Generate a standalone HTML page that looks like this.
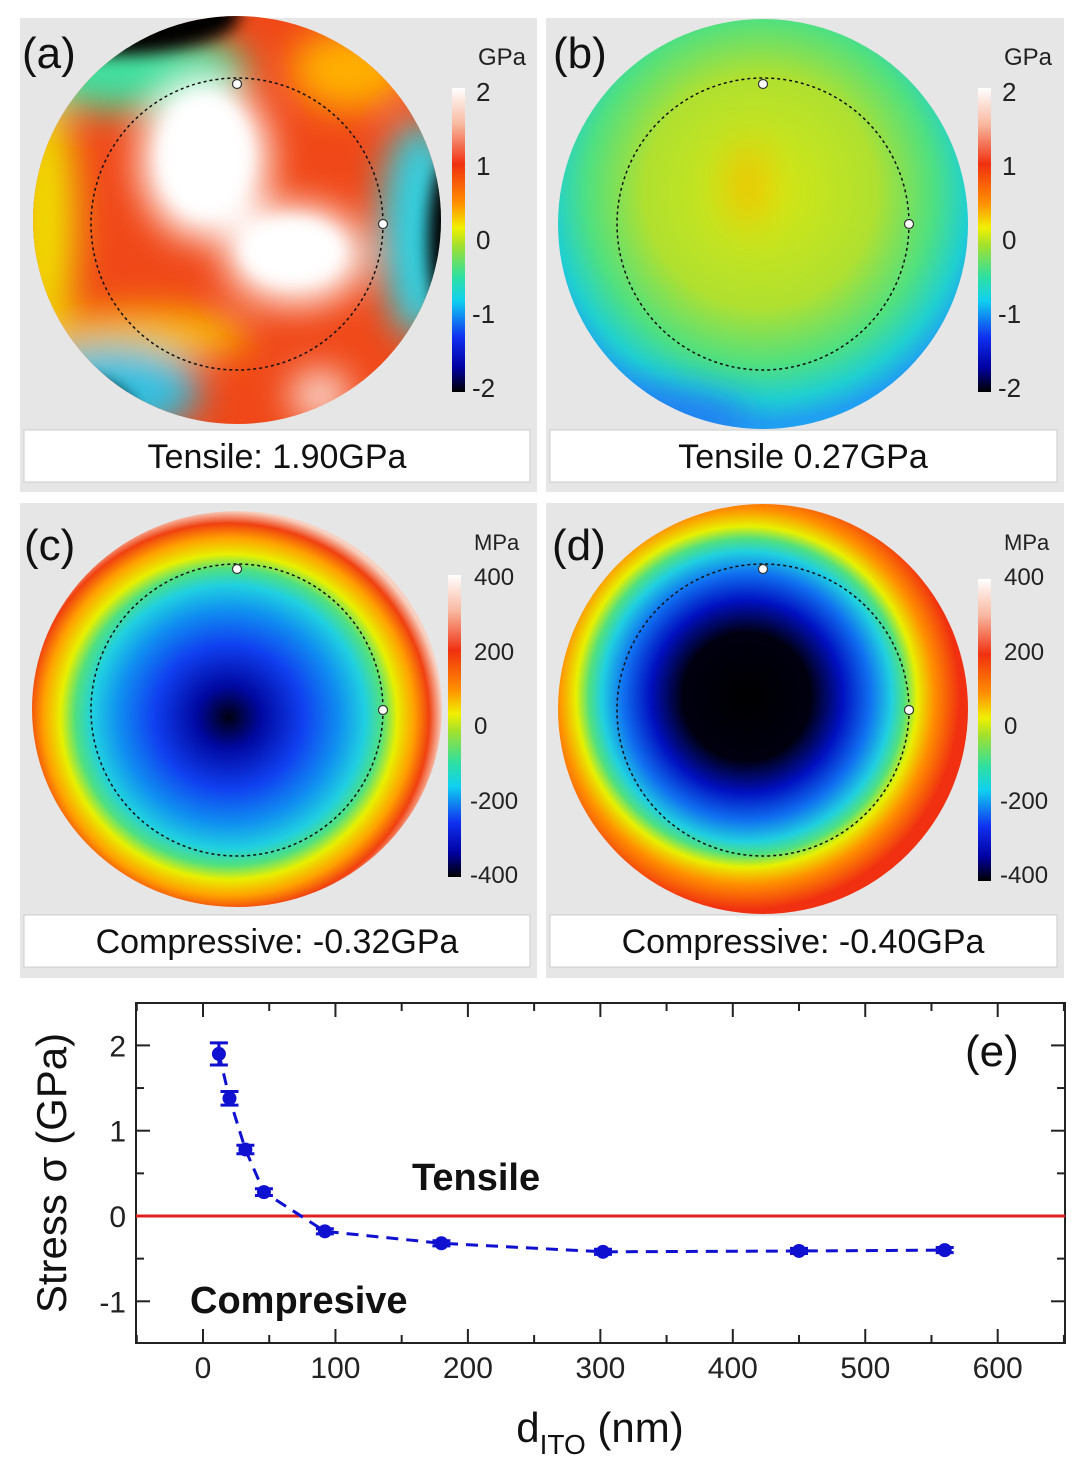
<!DOCTYPE html>
<html><head><meta charset="utf-8"><style>
body{margin:0;background:#fff;width:1080px;height:1466px;overflow:hidden;font-family:"Liberation Sans",sans-serif}
svg text{font-family:"Liberation Sans","DejaVu Sans",sans-serif}
</style></head><body>
<svg width="1080" height="1466" viewBox="0 0 1080 1466" xmlns="http://www.w3.org/2000/svg">
<defs>
<linearGradient id="cbar" x1="0" y1="0" x2="0" y2="1">
<stop offset="0" stop-color="#fff"/><stop offset="0.12" stop-color="#f8b8a0"/><stop offset="0.25" stop-color="#f03010"/><stop offset="0.38" stop-color="#ff9000"/><stop offset="0.46" stop-color="#f0f000"/><stop offset="0.52" stop-color="#a0e030"/><stop offset="0.62" stop-color="#30e0a0"/><stop offset="0.7" stop-color="#10d0f0"/><stop offset="0.82" stop-color="#1030f0"/><stop offset="0.92" stop-color="#0000a0"/><stop offset="1" stop-color="#000"/>
</linearGradient>
<radialGradient id="gc" cx="0.48" cy="0.52" r="0.52">
<stop offset="0" stop-color="#000010"/><stop offset="0.15" stop-color="#0008a0"/><stop offset="0.35" stop-color="#1040f0"/><stop offset="0.52" stop-color="#1090f0"/><stop offset="0.64" stop-color="#20d0e0"/><stop offset="0.72" stop-color="#50e080"/><stop offset="0.79" stop-color="#e8f000"/><stop offset="0.87" stop-color="#ffa000"/><stop offset="0.94" stop-color="#f04010"/><stop offset="1" stop-color="#f8d0c0"/>
</radialGradient>
<radialGradient id="gd" cx="0.46" cy="0.47" r="0.52">
<stop offset="0" stop-color="#000"/><stop offset="0.3" stop-color="#000010"/><stop offset="0.45" stop-color="#0010c0"/><stop offset="0.58" stop-color="#1070f0"/><stop offset="0.68" stop-color="#20d0e0"/><stop offset="0.74" stop-color="#50e080"/><stop offset="0.8" stop-color="#e8f000"/><stop offset="0.88" stop-color="#ff9000"/><stop offset="1" stop-color="#f03010"/>
</radialGradient>
<radialGradient id="gb" cx="0.5" cy="0.42" r="0.55">
<stop offset="0" stop-color="#d8e810"/><stop offset="0.5" stop-color="#b0e030"/><stop offset="0.75" stop-color="#50e080"/><stop offset="0.9" stop-color="#20d0d0"/><stop offset="1" stop-color="#20a0f0"/>
</radialGradient>
<filter id="bl" x="-50%" y="-50%" width="200%" height="200%"><feGaussianBlur stdDeviation="18"/></filter>
<filter id="bl2" x="-50%" y="-50%" width="200%" height="200%"><feGaussianBlur stdDeviation="8"/></filter>
<clipPath id="ca"><circle cx="237" cy="220" r="204"/></clipPath>
<clipPath id="cb"><circle cx="763" cy="224" r="205"/></clipPath>
</defs>

<rect x="20" y="18" width="517" height="474" fill="#e6e6e6"/>
<rect x="546" y="18" width="518" height="474" fill="#e6e6e6"/>
<rect x="20" y="503" width="517" height="475" fill="#e6e6e6"/>
<rect x="546" y="503" width="518" height="475" fill="#e6e6e6"/>

<g clip-path="url(#ca)">
<rect x="20" y="10" width="440" height="420" fill="#f04818"/>
<g filter="url(#bl)">
<ellipse cx="45" cy="220" rx="30" ry="130" fill="#f0e000"/>
<ellipse cx="150" cy="335" rx="100" ry="25" fill="#f8c000"/>
<ellipse cx="130" cy="70" rx="120" ry="40" fill="#40e0a0"/>
<ellipse cx="420" cy="230" rx="40" ry="110" fill="#30d0e0"/>
<ellipse cx="110" cy="390" rx="90" ry="45" fill="#30c0e0"/>
<ellipse cx="350" cy="70" rx="60" ry="40" fill="#ffb000"/>
<ellipse cx="205" cy="160" rx="65" ry="80" fill="#fff"/>
<ellipse cx="295" cy="255" rx="70" ry="50" fill="#fff"/>
<ellipse cx="320" cy="395" rx="30" ry="25" fill="#fbe0d8"/>
</g>
<g filter="url(#bl2)">
<ellipse cx="205" cy="155" rx="45" ry="60" fill="#fff"/>
<ellipse cx="292" cy="250" rx="50" ry="32" fill="#fff"/>
<ellipse cx="110" cy="15" rx="130" ry="40" fill="#000"/>
<ellipse cx="450" cy="240" rx="22" ry="80" fill="#000"/>
<ellipse cx="60" cy="415" rx="75" ry="40" fill="#000"/>
</g>
</g>
<g clip-path="url(#cb)">
<rect x="550" y="15" width="420" height="420" fill="url(#gb)"/>
<g filter="url(#bl)"><ellipse cx="748" cy="185" rx="18" ry="40" fill="#f0c000"/>
<ellipse cx="640" cy="420" rx="110" ry="30" fill="#2080f0"/></g>
</g>
<ellipse cx="237" cy="709" rx="205" ry="198" fill="url(#gc)"/>
<circle cx="763" cy="709" r="205" fill="url(#gd)"/>

<g fill="none" stroke="#111" stroke-width="1.5" stroke-dasharray="3,3">
<circle cx="237" cy="224" r="146"/><circle cx="763" cy="224" r="146"/>
<circle cx="237" cy="710" r="146"/><circle cx="763" cy="710" r="146"/>
</g>
<g fill="#fff" stroke="#333" stroke-width="1.2">
<circle cx="237" cy="84" r="4.5"/><circle cx="383" cy="224" r="4.5"/>
<circle cx="763" cy="84" r="4.5"/><circle cx="909" cy="224" r="4.5"/>
<circle cx="237" cy="569" r="4.5"/><circle cx="383" cy="710" r="4.5"/>
<circle cx="763" cy="569" r="4.5"/><circle cx="909" cy="710" r="4.5"/>
</g>

<g>
<rect x="452" y="88" width="13" height="304" fill="url(#cbar)"/>
<text x="478" y="65" font-size="24" fill="#222">GPa</text>
<g font-size="26" fill="#222"><text x="476" y="101">2</text><text x="476" y="175">1</text><text x="476" y="249">0</text><text x="472" y="323">-1</text><text x="472" y="397">-2</text></g>
</g>
<g>
<rect x="978" y="88" width="13" height="304" fill="url(#cbar)"/>
<text x="1004" y="65" font-size="24" fill="#222">GPa</text>
<g font-size="26" fill="#222"><text x="1002" y="101">2</text><text x="1002" y="175">1</text><text x="1002" y="249">0</text><text x="998" y="323">-1</text><text x="998" y="397">-2</text></g>
</g>
<g>
<rect x="448" y="575" width="13" height="302" fill="url(#cbar)"/>
<text x="474" y="550" font-size="22" fill="#222">MPa</text>
<g font-size="24" fill="#222"><text x="474" y="585">400</text><text x="474" y="660">200</text><text x="474" y="734">0</text><text x="470" y="809">-200</text><text x="470" y="883">-400</text></g>
</g>
<g>
<rect x="978" y="579" width="13" height="302" fill="url(#cbar)"/>
<text x="1004" y="550" font-size="22" fill="#222">MPa</text>
<g font-size="24" fill="#222"><text x="1004" y="585">400</text><text x="1004" y="660">200</text><text x="1004" y="734">0</text><text x="1000" y="809">-200</text><text x="1000" y="883">-400</text></g>
</g>

<g font-size="44" fill="#111">
<text x="22" y="68">(a)</text>
<text x="553" y="68">(b)</text>
<text x="24" y="560">(c)</text>
<text x="552" y="560">(d)</text>
</g>

<g fill="#fff" stroke="#ccc">
<rect x="24" y="430" width="506" height="52"/>
<rect x="550" y="430" width="507" height="52"/>
<rect x="24" y="915" width="506" height="52"/>
<rect x="550" y="915" width="507" height="52"/>
</g>
<g font-size="34" fill="#111" text-anchor="middle">
<text x="277" y="468">Tensile: 1.90GPa</text>
<text x="803" y="468">Tensile 0.27GPa</text>
<text x="277" y="953">Compressive: -0.32GPa</text>
<text x="803" y="953">Compressive: -0.40GPa</text>
</g>

<g id="chart"></g>
</svg>
<script>
const xValues=[12,20,32,46,92,180,302,450,560];
const yValues=[1.9,1.38,0.78,0.28,-0.18,-0.32,-0.42,-0.41,-0.40];
const yErr=[0.13,0.08,0.05,0.04,0.03,0.03,0.03,0.03,0.03];
const xTicks=[0,100,200,300,400,500,600];
const yTicks=[2,1,0,-1];
const L=136,R=1065,T=1003,B=1343;
const sx=v=>203+v*1.3245;
const sy=v=>1216-v*85.3;
const ns='http://www.w3.org/2000/svg';
const g=document.getElementById('chart');
function mk(t,a,p){const e=document.createElementNS(ns,t);for(const k in a)e.setAttribute(k,a[k]);(p||g).appendChild(e);return e;}
let e;
e=mk('rect',{x:L,y:T,width:R-L,height:B-T,fill:'#fff',stroke:'#222','stroke-width':2});


for(let v=-50;v<=650;v+=50){const x=sx(v);if(x<=L||x>=R)continue;const len=v%100===0?14:8;
mk('line',{x1:x,y1:B,x2:x,y2:B-len,stroke:'#222','stroke-width':2});mk('line',{x1:x,y1:T,x2:x,y2:T+len,stroke:'#222','stroke-width':2});}
for(let v=-1.5;v<=2.5;v+=0.5){const y=sy(v);if(y<=T||y>=B)continue;const len=Number.isInteger(v)?14:8;
mk('line',{x1:L,y1:y,x2:L+len,y2:y,stroke:'#222','stroke-width':2});mk('line',{x1:R,y1:y,x2:R-len,y2:y,stroke:'#222','stroke-width':2});}
xTicks.forEach(v=>{e=mk('text',{x:sx(v),y:1378,'font-size':30,'text-anchor':'middle',fill:'#222'});e.textContent=v;

});
yTicks.forEach(v=>{e=mk('text',{x:126,y:sy(v)+11,'font-size':30,'text-anchor':'end',fill:'#222'});e.textContent=v;

});
e=mk('line',{x1:L,y1:sy(0),x2:R,y2:sy(0),stroke:'#e02020','stroke-width':3});


e=mk('polyline',{points:xValues.map((x,i)=>sx(x)+','+sy(yValues[i])).join(' '),fill:'none',stroke:'#1010d0','stroke-width':3,'stroke-dasharray':'12,8'});


xValues.forEach((x,i)=>{const cx=sx(x),cy=sy(yValues[i]),er=yErr[i]*85.3;
mk('line',{x1:cx,y1:cy-er,x2:cx,y2:cy+er,stroke:'#1010d0','stroke-width':3});
mk('line',{x1:cx-9,y1:cy-er,x2:cx+9,y2:cy-er,stroke:'#1010d0','stroke-width':3});
mk('line',{x1:cx-9,y1:cy+er,x2:cx+9,y2:cy+er,stroke:'#1010d0','stroke-width':3});
e=mk('circle',{cx:cx,cy:cy,r:7,fill:'#1010d0'});

});
e=mk('text',{x:412,y:1190,'font-size':38,'font-weight':'bold',fill:'#111'});e.textContent='Tensile';


e=mk('text',{x:190,y:1313,'font-size':38,'font-weight':'bold',fill:'#111'});e.textContent='Compresive';


e=mk('text',{x:965,y:1066,'font-size':44,fill:'#111'});e.textContent='(e)';


e=mk('text',{x:0,y:0,'font-size':42,fill:'#111','text-anchor':'middle',transform:'translate(66,1173) rotate(-90)'});e.textContent='Stress σ (GPa)';


e=mk('text',{x:600,y:1442,'font-size':42,fill:'#111','text-anchor':'middle'});


e.innerHTML='d<tspan font-size="28" dy="12">ITO</tspan><tspan dy="-12"> (nm)</tspan>';
</script>
</body></html>
